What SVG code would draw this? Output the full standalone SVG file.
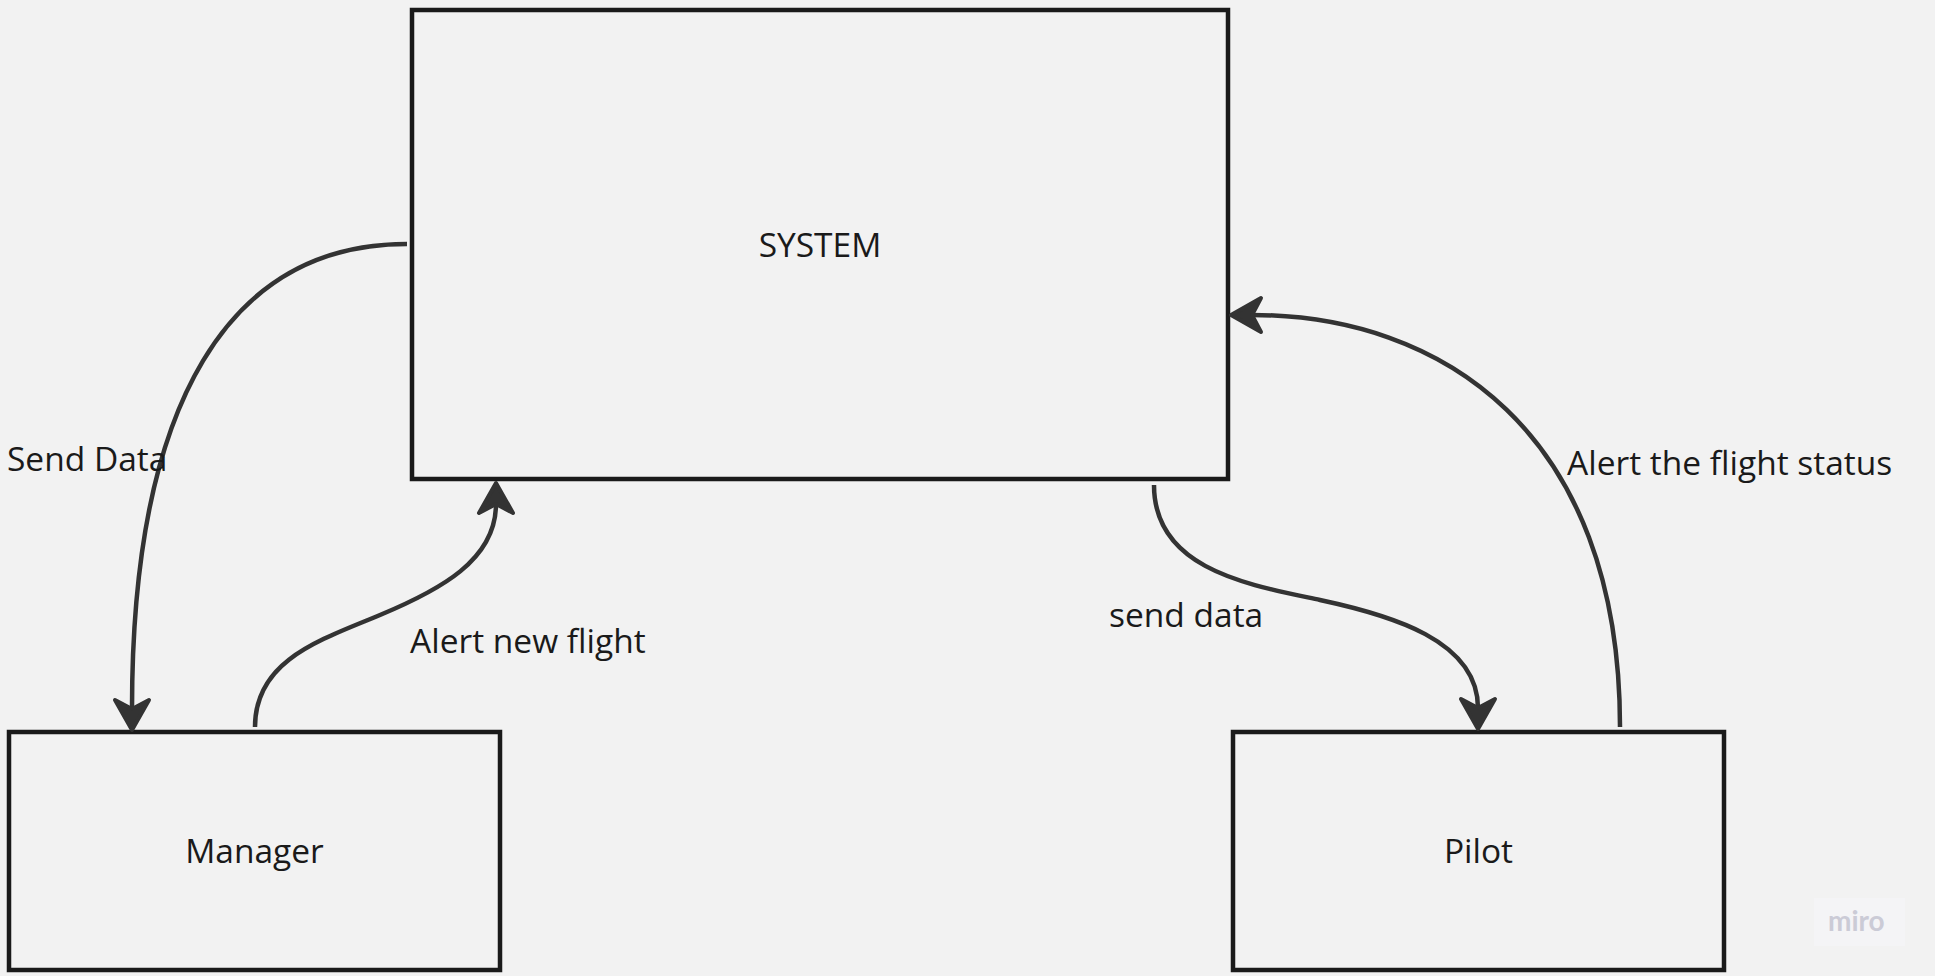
<svg xmlns="http://www.w3.org/2000/svg" width="1935" height="976" viewBox="0 0 1935 976">
<style>
.node rect{fill:#f2f2f2;stroke:#1a1a1a;stroke-width:4.5}
.lbl{font-family:"Open Sans","Liberation Sans",sans-serif;font-size:33.5px;fill:#1a1a1a}
.ntext{text-anchor:middle}
.conn path{fill:none;stroke:#333333;stroke-width:4.5;stroke-linecap:butt}
</style>
<defs>
<marker id="arrow" markerUnits="userSpaceOnUse" markerWidth="44" markerHeight="44" viewBox="-28 -22 44 44" refX="0" refY="0" orient="auto" overflow="visible">
<path d="M21,0 L-9,-17 L0,0 L-9,17 Z" fill="#333333" stroke="#333333" stroke-width="4" stroke-linejoin="round"/>
</marker>
</defs>
<rect width="1935" height="976" fill="#f2f2f2"/>
<g id="system" class="node">
<rect x="412" y="10" width="816" height="469"/>
<text class="lbl ntext" x="820" y="257">SYSTEM</text>
</g>
<g id="manager" class="node">
<rect x="9" y="732" width="491" height="238"/>
<text class="lbl ntext" x="254.5" y="863">Manager</text>
</g>
<g id="pilot" class="node">
<rect x="1233" y="732" width="491" height="238"/>
<text class="lbl ntext" x="1478.5" y="863">Pilot</text>
</g>
<g id="connectors" class="conn">
<path d="M407,244 C230,244 132,400 132,709" marker-end="url(#arrow)"/>
<path d="M255,727 C255,660 320,640 380,615 S496,560 496,504" marker-end="url(#arrow)"/>
<path d="M1154,485 C1154,570 1250,585 1320,600 S1478,640 1478,708" marker-end="url(#arrow)"/>
<path d="M1620,727 C1620,430 1440,315 1252,315" marker-end="url(#arrow)"/>
</g>
<g id="labels">
<text class="lbl" x="7" y="471">Send Data</text>
<text class="lbl" x="410" y="653">Alert new flight</text>
<text class="lbl" x="1109" y="627">send data</text>
<text class="lbl" x="1567" y="475">Alert the flight status</text>
</g>
<g id="watermark">
<rect x="1814" y="898" width="91" height="48" fill="#f4f4f6"/>
<text x="1828" y="931" font-family="Lato,'Open Sans',sans-serif" font-size="28" font-weight="700" fill="#cbcbd6">miro</text>
</g>
</svg>
